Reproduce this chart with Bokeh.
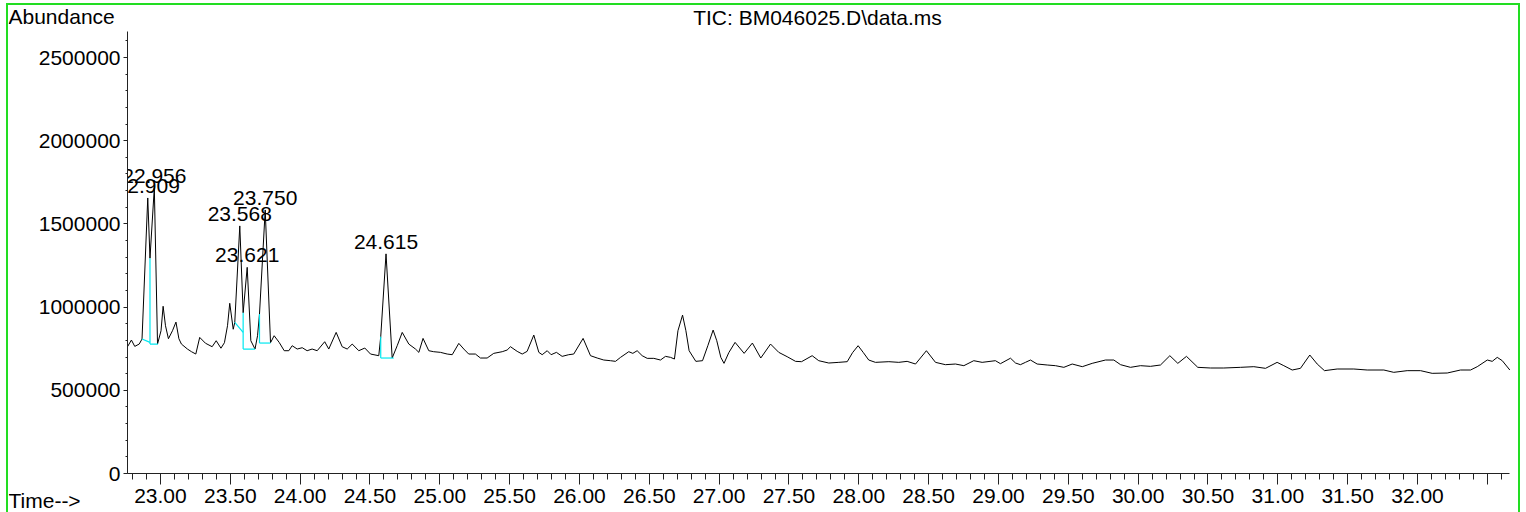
from bokeh.plotting import figure
from bokeh.models import Range1d, FixedTicker, Label, BoxAnnotation
from bokeh.core.properties import value
from bokeh.embed import file_html
from bokeh.resources import INLINE

# ---- data ----
time_min = [
    22.764, 22.792, 22.816, 22.848, 22.868, 22.909, 22.925, 22.956, 22.979, 23.004,
    23.019, 23.036, 23.057, 23.086, 23.111, 23.132, 23.150, 23.193, 23.222, 23.253,
    23.281, 23.322, 23.370, 23.399, 23.433, 23.458, 23.480, 23.496, 23.521, 23.532,
    23.568, 23.592, 23.621, 23.647, 23.677, 23.695, 23.709, 23.750, 23.788, 23.814,
    23.850, 23.886, 23.919, 23.943, 23.979, 24.015, 24.050, 24.086, 24.122, 24.176,
    24.205, 24.258, 24.301, 24.337, 24.373, 24.420, 24.463, 24.504, 24.563, 24.577,
    24.615, 24.659, 24.695, 24.731, 24.778, 24.826, 24.850, 24.880, 24.921, 24.956,
    25.005, 25.053, 25.089, 25.136, 25.172, 25.207, 25.255, 25.291, 25.339, 25.386,
    25.447, 25.482, 25.506, 25.554, 25.590, 25.625, 25.673, 25.709, 25.733, 25.769,
    25.797, 25.835, 25.876, 25.923, 25.959, 26.026, 26.079, 26.127, 26.174, 26.222,
    26.258, 26.294, 26.353, 26.382, 26.413, 26.449, 26.485, 26.532, 26.580, 26.616,
    26.652, 26.680, 26.705, 26.738, 26.762, 26.785, 26.833, 26.881, 26.919, 26.957,
    26.983, 27.012, 27.035, 27.069, 27.114, 27.179, 27.238, 27.298, 27.368, 27.427,
    27.487, 27.547, 27.590, 27.666, 27.713, 27.785, 27.857, 27.917, 27.955, 27.995,
    28.033, 28.071, 28.119, 28.215, 28.286, 28.346, 28.406, 28.484, 28.549, 28.620,
    28.692, 28.752, 28.823, 28.883, 28.978, 29.014, 29.086, 29.122, 29.157, 29.193,
    29.229, 29.277, 29.349, 29.408, 29.468, 29.528, 29.600, 29.671, 29.766, 29.826,
    29.874, 29.945, 30.017, 30.088, 30.160, 30.227, 30.284, 30.346, 30.427, 30.518,
    30.613, 30.733, 30.828, 30.912, 30.995, 31.043, 31.103, 31.162, 31.229, 31.282,
    31.334, 31.425, 31.544, 31.640, 31.759, 31.830, 31.926, 32.022, 32.105, 32.213,
    32.308, 32.380, 32.428, 32.500, 32.535, 32.571, 32.607, 32.661,
]
abundance = [
    762000, 802000, 764000, 778000, 808000, 1656000, 1294000, 1718000, 778000, 858000,
    1005000, 888000, 810000, 858000, 910000, 810000, 778000, 748000, 732000, 718000,
    818000, 783000, 762000, 798000, 753000, 786000, 888000, 1023000, 867000, 908000,
    1488000, 966000, 1239000, 798000, 748000, 828000, 958000, 1584000, 786000, 828000,
    788000, 738000, 738000, 768000, 748000, 756000, 738000, 748000, 738000, 792000,
    748000, 848000, 762000, 748000, 778000, 738000, 754000, 718000, 708000, 822000,
    1320000, 694000, 768000, 848000, 778000, 748000, 728000, 812000, 738000, 732000,
    728000, 718000, 714000, 782000, 748000, 718000, 718000, 694000, 694000, 722000,
    732000, 742000, 762000, 734000, 718000, 734000, 832000, 728000, 714000, 738000,
    714000, 728000, 704000, 714000, 718000, 812000, 708000, 694000, 682000, 678000,
    674000, 698000, 732000, 722000, 738000, 708000, 692000, 692000, 682000, 704000,
    698000, 688000, 858000, 952000, 858000, 738000, 674000, 678000, 768000, 862000,
    798000, 698000, 662000, 726000, 788000, 722000, 784000, 694000, 778000, 728000,
    702000, 674000, 672000, 708000, 678000, 664000, 668000, 672000, 726000, 768000,
    726000, 682000, 668000, 672000, 668000, 674000, 658000, 738000, 668000, 654000,
    658000, 648000, 678000, 668000, 678000, 660000, 693000, 664000, 654000, 668000,
    682000, 658000, 652000, 648000, 638000, 658000, 642000, 662000, 682000, 682000,
    654000, 638000, 648000, 644000, 652000, 708000, 662000, 704000, 638000, 634000,
    634000, 638000, 642000, 632000, 668000, 648000, 622000, 632000, 712000, 658000,
    618000, 628000, 628000, 622000, 622000, 608000, 618000, 618000, 602000, 604000,
    622000, 622000, 642000, 682000, 674000, 698000, 678000, 622000,
]

# integrated peaks
peak_rt = [22.909, 22.956, 23.568, 23.621, 23.750, 24.615]
peak_labels = ["22.909", "22.956", "23.568", "23.621", "23.750", "24.615"]
peak_height = [1656000, 1718000, 1488000, 1239000, 1584000, 1320000]

# integration baselines (start/end time and abundance)
base_t0 = [22.868, 22.925, 23.532, 23.592, 23.709, 24.577]
base_a0 = [808000, 778000, 908000, 748000, 784000, 694000]
base_t1 = [22.925, 22.982, 23.592, 23.677, 23.788, 24.670]
base_a1 = [788000, 778000, 848000, 748000, 784000, 694000]

# drop lines at peak boundaries
drop_t = [22.925, 23.592, 23.709, 24.577]
drop_lo = [778000, 748000, 784000, 694000]
drop_hi = [1294000, 966000, 958000, 822000]

# axes
t_start, t_end = 22.764, 32.661
a_max = 2656000
x_ticks = [23.0, 23.5, 24.0, 24.5, 25.0, 25.5, 26.0, 26.5, 27.0, 27.5,
           28.0, 28.5, 29.0, 29.5, 30.0, 30.5, 31.0, 31.5, 32.0, 32.5]
x_tick_labels = ["23.00", "23.50", "24.00", "24.50", "25.00", "25.50", "26.00",
                 "26.50", "27.00", "27.50", "28.00", "28.50", "29.00", "29.50",
                 "30.00", "30.50", "31.00", "31.50", "32.00", ""]
x_minor = [round(22.8 + 0.1 * i, 1) for i in range(99)]
y_ticks = [0, 500000, 1000000, 1500000, 2000000, 2500000]
y_tick_labels = ["0", "500000", "1000000", "1500000", "2000000", "2500000"]
y_minor = [100000 * i for i in range(27)]

title_text = "TIC: BM046025.D\\data.ms"
y_title = "Abundance"
x_title = "Time-->"

FONT = "Liberation Sans"
FS = "21px"

# ---- layout: the frame fills the canvas, axes are pinned at the data origin ----
LEFT, TOP = 8, 5          # canvas position on the page
W, H = 1510, 507
PX_PER_MIN = 139.67       # horizontal scale
ABUND_PER_PX = 6010.0     # vertical scale
AXIS_LEFT_PX = 127 - LEFT # y axis position from canvas left
AXIS_BOTTOM_PX = 473 - TOP  # x axis position from canvas top

x0 = t_start - AXIS_LEFT_PX / PX_PER_MIN
y0 = -(H - AXIS_BOTTOM_PX) * ABUND_PER_PX
p = figure(width=W, height=H, output_backend="svg", toolbar_location=None,
           x_range=Range1d(x0, x0 + W / PX_PER_MIN),
           y_range=Range1d(y0, y0 + H * ABUND_PER_PX),
           min_border_left=0, min_border_right=0, min_border_top=0,
           min_border_bottom=0)
p.styles = {"margin-left": f"{LEFT}px", "margin-top": f"{TOP}px",
            "outline": "2px solid #22dd22", "outline-offset": "0px"}
p.outline_line_color = None
p.xgrid.visible = False
p.ygrid.visible = False
p.background_fill_color = "white"
p.border_fill_color = "white"

xa = p.xaxis[0]
xa.fixed_location = 0
xa.bounds = (t_start, t_end)
xa.ticker = FixedTicker(ticks=x_ticks, minor_ticks=x_minor)
xa.major_label_overrides = {t: l for t, l in zip(x_ticks, x_tick_labels)}
xa.major_tick_out = 11
xa.major_tick_in = 0
xa.minor_tick_out = 6
xa.minor_tick_in = 0
xa.major_label_standoff = 4
ya = p.yaxis[0]
ya.fixed_location = t_start
ya.bounds = (0, a_max)
ya.ticker = FixedTicker(ticks=y_ticks, minor_ticks=y_minor)
ya.major_label_overrides = {t: l for t, l in zip(y_ticks, y_tick_labels)}
ya.major_tick_out = 4
ya.major_tick_in = 0
ya.minor_tick_out = 2
ya.minor_tick_in = 0
ya.major_label_standoff = 3
for ax in (xa, ya):
    ax.axis_line_color = "#222222"
    ax.major_tick_line_color = "#222222"
    ax.minor_tick_line_color = "#222222"
    ax.major_label_text_font = FONT
    ax.major_label_text_font_size = FS
    ax.major_label_text_color = "black"

# trace
p.line(time_min, abundance, line_color="black", line_width=1)

# integration baselines and drop lines
p.segment(base_t0, base_a0, base_t1, base_a1, line_color="#00e8f0", line_width=1.2)
p.segment(drop_t, drop_lo, drop_t, drop_hi, line_color="#00e8f0", line_width=1.2)

# peak labels (text centre sits ~8px above the anchor)
p.text(peak_rt, peak_height, text=peak_labels, text_font=value(FONT),
       text_font_size=FS, text_align="center", text_baseline="middle",
       y_offset=-12, text_color="black")

# white mask left of the y axis: peak labels are cut at the plot area edge
mask = BoxAnnotation(right=t_start, fill_color="white", fill_alpha=1.0,
                     line_alpha=0.0, level="glyph")
p.renderers.append(mask)

# texts outside the data area (page pixel -> data helpers)
def px_to_t(px):
    return x0 + (px - LEFT) / PX_PER_MIN

def py_to_a(py):
    return (473 - py) * ABUND_PER_PX

# y positions are the visual centres of the texts
p.add_layout(Label(x=px_to_t(817), y=py_to_a(17), text=title_text,
                   text_font=FONT, text_font_size=FS, text_align="center",
                   text_baseline="middle", text_color="black"))
p.add_layout(Label(x=px_to_t(8), y=py_to_a(15.8), text=y_title,
                   text_font=FONT, text_font_size=FS, text_align="left",
                   text_baseline="middle", text_color="black"))
p.add_layout(Label(x=px_to_t(8), y=py_to_a(500.2), text=x_title,
                   text_font=FONT, text_font_size=FS, text_align="left",
                   text_baseline="middle", text_color="black"))

open("out.html", "w").write(file_html(p, INLINE))
